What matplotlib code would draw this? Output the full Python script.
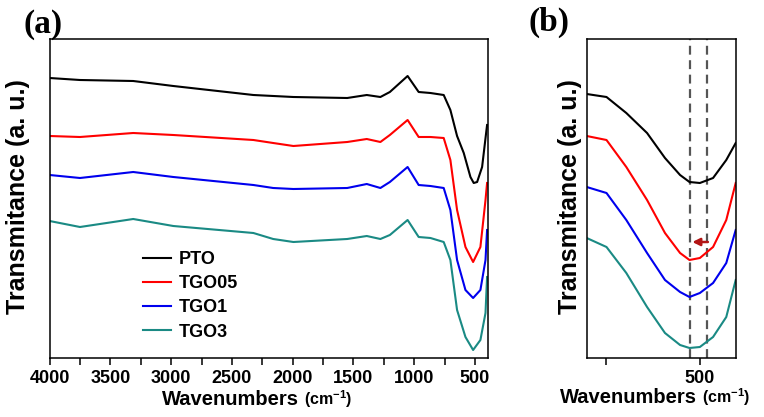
import matplotlib
matplotlib.use("Agg")
import matplotlib.pyplot as plt
from matplotlib.ticker import MultipleLocator

plt.rcParams['font.family'] = ['Liberation Sans', 'DejaVu Sans']
plt.rcParams['mathtext.default'] = 'regular'

# ---- panel (a): full FTIR spectra (arbitrary transmittance units) ----
wn_pto = [4000, 3750, 3312, 2982, 2323, 1994, 1551, 1390, 1278, 1200, 1054, 963,
          866, 757, 702, 647, 592, 537, 510, 482, 441, 405, 400]
t_pto = [280, 278, 277, 272, 263, 261, 260, 263, 261, 266, 282, 266,
         265, 263, 248, 222, 205, 181, 175, 176, 191, 228, 233]

wn_tgo = [4000, 3750, 3312, 2982, 2323, 2160, 1994, 1551, 1390, 1278, 1200, 1054,
          963, 866, 757, 702, 647, 578, 515, 455, 413, 400]
t_tgo05 = [222, 221, 225, 223, 218, 215, 212, 216, 219, 216, 223, 238,
           221, 221, 220, 198, 148, 111, 96, 111, 158, 175]
t_tgo1 = [183, 180, 186, 181, 173, 170, 169, 170, 174, 170, 176, 191,
          173, 172, 170, 148, 98, 68, 60, 68, 98, 128]
t_tgo3 = [137, 131, 139, 132, 125, 119, 116, 119, 122, 119, 123, 138,
          121, 120, 116, 98, 48, 21, 8, 18, 45, 81]

# ---- panel (b): zoom around the M-O band ----
wn_b = [620, 599, 578, 556, 537, 521, 511, 500, 486, 472, 462]
b_pto = [264, 261, 245, 225, 200, 183, 176, 175, 180, 198, 215]
b_tgo05 = [222, 218, 191, 158, 125, 105, 98, 100, 111, 138, 175]
b_tgo1 = [171, 165, 138, 105, 78, 66, 61, 65, 75, 95, 128]
b_tgo3 = [120, 111, 85, 51, 25, 13, 10, 11, 21, 41, 78]

peak_lines = [510, 492]
labels = ['PTO', 'TGO05', 'TGO1', 'TGO3']
colors = ['black', '#ff0000', '#0000ee', '#1a8a84']

W, H = 764, 417
fig = plt.figure(figsize=(W / 100, H / 100), dpi=100)


def fx(px):
    return px / W


def fy(py):
    return 1 - py / H


ax_a = fig.add_axes([fx(49.6), fy(358), fx(488.3) - fx(49.6), fy(38.5) - fy(358)])
ax_b = fig.add_axes([fx(586.7), fy(358), fx(735.7) - fx(586.7), fy(38.5) - fy(358)])

series_a = [(wn_pto, t_pto), (wn_tgo, t_tgo05), (wn_tgo, t_tgo1), (wn_tgo, t_tgo3)]
for (x, y), lab, c in zip(series_a, labels, colors):
    ax_a.plot(x, y, color=c, lw=1.5, label=lab)

for y, c in zip([b_pto, b_tgo05, b_tgo1, b_tgo3], colors):
    ax_b.plot(wn_b, y, color=c, lw=1.5)

for xv in peak_lines:
    ax_b.axvline(xv, color='#555555', lw=1.6, ls=(0, (4, 2.5)), zorder=0)

ax_b.annotate('', xy=(508, 116), xytext=(491.5, 116),
              arrowprops=dict(arrowstyle='-|>', color='#b31515', lw=1.8,
                              mutation_scale=11, shrinkA=0, shrinkB=0))

ax_a.set_xlim(4000, 390)
ax_b.set_xlim(620, 462)
for ax in (ax_a, ax_b):
    ax.set_ylim(0, 319.5)
    ax.set_yticks([])
    for s in ax.spines.values():
        s.set_linewidth(1.1)
    ax.tick_params(axis='x', which='both', direction='out', length=5, width=1.1,
                   pad=3.5, labelsize=13)

ax_a.xaxis.set_minor_locator(MultipleLocator(250))
ax_a.set_xticks(range(4000, 499, -500))
ax_a.set_xticklabels([str(v) for v in range(4000, 499, -500)], fontweight='bold', fontsize=13)
ax_b.set_xticks([600, 500])
ax_b.set_xticklabels(['', '500'], fontweight='bold', fontsize=13)

leg = ax_a.legend(loc='upper left', bbox_to_anchor=(fx(143), fy(251)),
                  bbox_transform=fig.transFigure, frameon=False, borderpad=0,
                  borderaxespad=0, handlelength=1.55, handletextpad=0.45,
                  labelspacing=0.4, prop={'weight': 'bold', 'size': 13})

# axis labels
for cx in (18, 570):
    fig.text(fx(cx), fy(197), 'Transmitance (a. u.)', rotation=90, ha='center',
             va='center', fontsize=18, fontweight='bold')

for x0, yb in ((162, 405), (560, 403)):
    t = fig.text(fx(x0), fy(yb), 'Wavenumbers', ha='left', va='baseline',
                 fontsize=14.5, fontweight='bold')
    fig.canvas.draw()
    bb = t.get_window_extent()
    fig.text(bb.x1 / W + fx(5), fy(yb), '(cm$^{-1}$)', ha='left', va='baseline',
             fontsize=11.5, fontweight='bold')

fig.text(fx(43), fy(25), '(a)', ha='center', va='center', fontsize=24,
         fontweight='bold', family='Liberation Serif')
fig.text(fx(549), fy(22), '(b)', ha='center', va='center', fontsize=24,
         fontweight='bold', family='Liberation Serif')

fig.savefig('out.png', dpi=100)
